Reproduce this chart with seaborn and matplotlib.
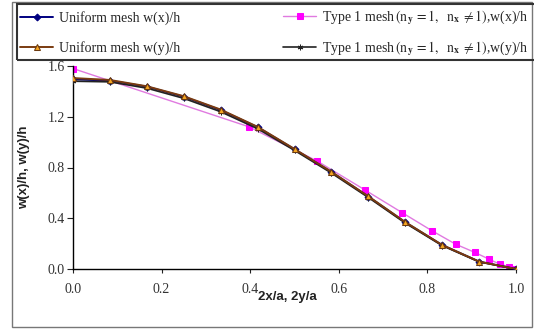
"""Plate deflection profiles: uniform mesh vs. graded Type 1 mesh."""

import matplotlib
matplotlib.use("Agg")
import matplotlib.pyplot as plt
from matplotlib.patches import Rectangle
import seaborn as sns

# --------------------------------------------------------------------------
# Data
# --------------------------------------------------------------------------

x_uniform = [0.0, 0.083, 0.167, 0.25, 0.333, 0.417, 0.5, 0.583, 0.667, 0.75, 0.833, 0.917, 1.0]
w_uniform_x = [1.495, 1.485, 1.437, 1.358, 1.253, 1.117, 0.943, 0.765, 0.570, 0.368, 0.189, 0.058, 0.0]
w_uniform_y = [1.505, 1.490, 1.440, 1.362, 1.257, 1.120, 0.946, 0.767, 0.572, 0.370, 0.190, 0.058, 0.0]
w_type1_y = [1.480, 1.475, 1.425, 1.345, 1.240, 1.105, 0.935, 0.757, 0.563, 0.362, 0.185, 0.056, 0.0]

x_type1 = [0.0, 0.397, 0.551, 0.659, 0.743, 0.810, 0.864, 0.907, 0.940, 0.964, 0.985, 1.0]
w_type1_x = [1.58, 1.121, 0.851, 0.623, 0.444, 0.302, 0.195, 0.131, 0.076, 0.037, 0.018, 0.0]

x_ticks = [0.0, 0.2, 0.4, 0.6, 0.8, 1.0]
y_ticks = [0.0, 0.4, 0.8, 1.2, 1.6]

MESH_TXT = r"$\,(\mathrm{n}_{\mathbf{y}}\,=1,\ \ \mathrm{n}_{\mathbf{x}}\,\neq 1)$"
LABELS = [
    "Uniform mesh w(x)/h",
    "Uniform mesh w(y)/h",
    "Type 1 mesh" + MESH_TXT + ",w(x)/h",
    "Type 1 mesh" + MESH_TXT + ",w(y)/h",
]

sns.set_theme(style="white")
plt.rcParams["font.family"] = ["Liberation Serif", "DejaVu Serif"]
plt.rcParams["mathtext.fontset"] = "stix"

fig = plt.figure(figsize=(5.34, 3.29), dpi=100)
ax = fig.add_axes([73 / 534, 1 - 269 / 329, 443 / 534, 203 / 329])

sns.lineplot(x=x_uniform, y=w_uniform_x, ax=ax, color="#000080", linewidth=1.4,
             marker="D", markersize=3.5, markeredgecolor="#000080", label=LABELS[0],
             sort=False, zorder=3)
sns.lineplot(x=x_uniform, y=w_uniform_y, ax=ax, color="#7a3b10", linewidth=1.4,
             marker="^", markersize=5, markerfacecolor="#f5a623", markeredgecolor="#6b3a10",
             label=LABELS[1], sort=False, zorder=5)
sns.lineplot(x=x_type1, y=w_type1_x, ax=ax, color="#e07ae0", linewidth=1.0,
             marker="s", markersize=5, markerfacecolor="#ff00ff", markeredgecolor="#ff00ff",
             label=LABELS[2], sort=False, zorder=2)
sns.lineplot(x=x_uniform, y=w_type1_y, ax=ax, color="#222222", linewidth=1.2,
             marker=(6, 2, 0), markersize=4, markeredgecolor="#222222", label=LABELS[3],
             sort=False, zorder=4)

ax.set_xlim(0, 1.0)
ax.set_ylim(0, 1.6)
ax.set_xticks(x_ticks)
ax.set_yticks(y_ticks)
ax.set_xticklabels([f"{t:.1f}" for t in x_ticks])
ax.set_yticklabels([f"{t:.1f}" for t in y_ticks])
ax.tick_params(axis="x", direction="out", length=3, width=0.8, pad=7, labelsize=10,
               colors="#222222", bottom=True)
ax.tick_params(axis="y", direction="out", length=4, width=0.8, pad=2, labelsize=10,
               colors="#222222", left=True)
for t in ax.get_xticklabels() + ax.get_yticklabels():
    t.set_color("#333333")

for side in ["top", "right"]:
    ax.spines[side].set_visible(False)
for side in ["left", "bottom"]:
    ax.spines[side].set_color("black")
    ax.spines[side].set_linewidth(1.0)
ax.grid(False)

ax.set_xlabel("2x/a, 2y/a", fontsize=9.5, fontweight="bold", family="Liberation Sans", color="#222222")
ax.set_ylabel("w(x)/h, w(y)/h", fontsize=9.5, fontweight="bold", family="Liberation Sans", color="#222222")
ax.xaxis.set_label_coords(0.485, -0.11)
ax.yaxis.set_label_coords(-0.097, 0.5)

# legend: two separate columns so the rows line up with the reference
handles, labels = ax.get_legend_handles_labels()
ax.get_legend().remove()
common = dict(loc="center left", fontsize=10, handlelength=2.4, handletextpad=0.4,
              frameon=False, borderpad=0, borderaxespad=0)
fig.legend(handles[:2], labels[:2], bbox_to_anchor=(20 / 534, 1 - 33 / 329),
           labelspacing=1.15, **common)
fig.legend(handles[2:], labels[2:], bbox_to_anchor=(283 / 534, 1 - 33 / 329),
           labelspacing=0.9, **common)

# legend box (runs off the right edge, as in the original) and outer chart frame
fig.patches.append(Rectangle((17 / 534, 1 - 60 / 329), 525 / 534, 56 / 329, transform=fig.transFigure,
                             fill=False, edgecolor="#333333", linewidth=1.5, zorder=1))
fig.patches.append(Rectangle((12 / 534, 2 / 329), 520 / 534, 325 / 329, transform=fig.transFigure,
                             fill=False, edgecolor="#777777", linewidth=1.0, zorder=0))

fig.savefig("out.png", dpi=100)
